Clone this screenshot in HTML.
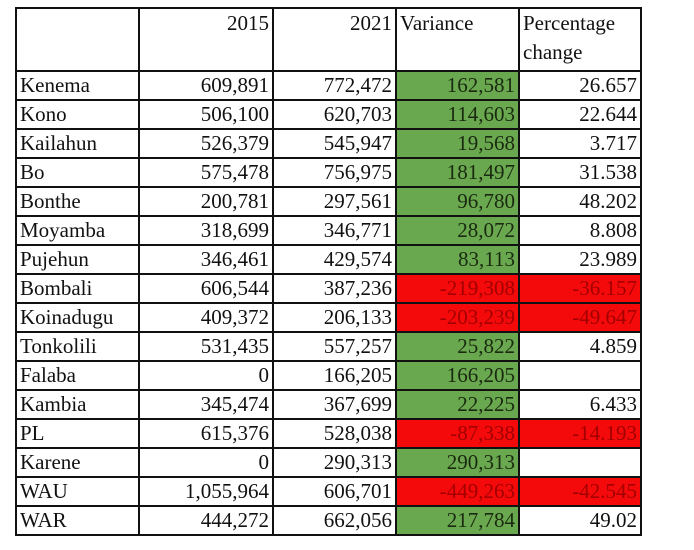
<!DOCTYPE html>
<html><head><meta charset="utf-8"><style>
html,body{margin:0;padding:0;background:#fff;width:694px;height:550px;overflow:hidden}
table{position:absolute;left:15px;top:7px;border-collapse:collapse;font-family:"Liberation Serif",serif;font-size:21px;color:#111;table-layout:fixed}
td{border:2px solid #111;padding:0 3px;height:27px;line-height:27px;text-align:right;white-space:nowrap;overflow:hidden}
td:first-child{text-align:left}
tr.h td{height:61px;vertical-align:top;line-height:29px}
tr.h td.l{text-align:left}
.g{background:#6aa84f;color:#1a2a10}
.r{background:#f40a0a;color:#a30000}
</style></head><body>
<table>
<colgroup><col style="width:123px"><col style="width:134px"><col style="width:123px"><col style="width:123px"><col style="width:122px"></colgroup>
<tr class="h"><td></td><td>2015</td><td>2021</td><td class="l">Variance</td><td class="l">Percentage<br>change</td></tr>
<tr><td>Kenema</td><td>609,891</td><td>772,472</td><td class="g">162,581</td><td>26.657</td></tr>
<tr><td>Kono</td><td>506,100</td><td>620,703</td><td class="g">114,603</td><td>22.644</td></tr>
<tr><td>Kailahun</td><td>526,379</td><td>545,947</td><td class="g">19,568</td><td>3.717</td></tr>
<tr><td>Bo</td><td>575,478</td><td>756,975</td><td class="g">181,497</td><td>31.538</td></tr>
<tr><td>Bonthe</td><td>200,781</td><td>297,561</td><td class="g">96,780</td><td>48.202</td></tr>
<tr><td>Moyamba</td><td>318,699</td><td>346,771</td><td class="g">28,072</td><td>8.808</td></tr>
<tr><td>Pujehun</td><td>346,461</td><td>429,574</td><td class="g">83,113</td><td>23.989</td></tr>
<tr><td>Bombali</td><td>606,544</td><td>387,236</td><td class="r">-219,308</td><td class="r">-36.157</td></tr>
<tr><td>Koinadugu</td><td>409,372</td><td>206,133</td><td class="r">-203,239</td><td class="r">-49.647</td></tr>
<tr><td>Tonkolili</td><td>531,435</td><td>557,257</td><td class="g">25,822</td><td>4.859</td></tr>
<tr><td>Falaba</td><td>0</td><td>166,205</td><td class="g">166,205</td><td></td></tr>
<tr><td>Kambia</td><td>345,474</td><td>367,699</td><td class="g">22,225</td><td>6.433</td></tr>
<tr><td>PL</td><td>615,376</td><td>528,038</td><td class="r">-87,338</td><td class="r">-14.193</td></tr>
<tr><td>Karene</td><td>0</td><td>290,313</td><td class="g">290,313</td><td></td></tr>
<tr><td>WAU</td><td>1,055,964</td><td>606,701</td><td class="r">-449,263</td><td class="r">-42.545</td></tr>
<tr><td>WAR</td><td>444,272</td><td>662,056</td><td class="g">217,784</td><td>49.02</td></tr>
</table>
</body></html>
